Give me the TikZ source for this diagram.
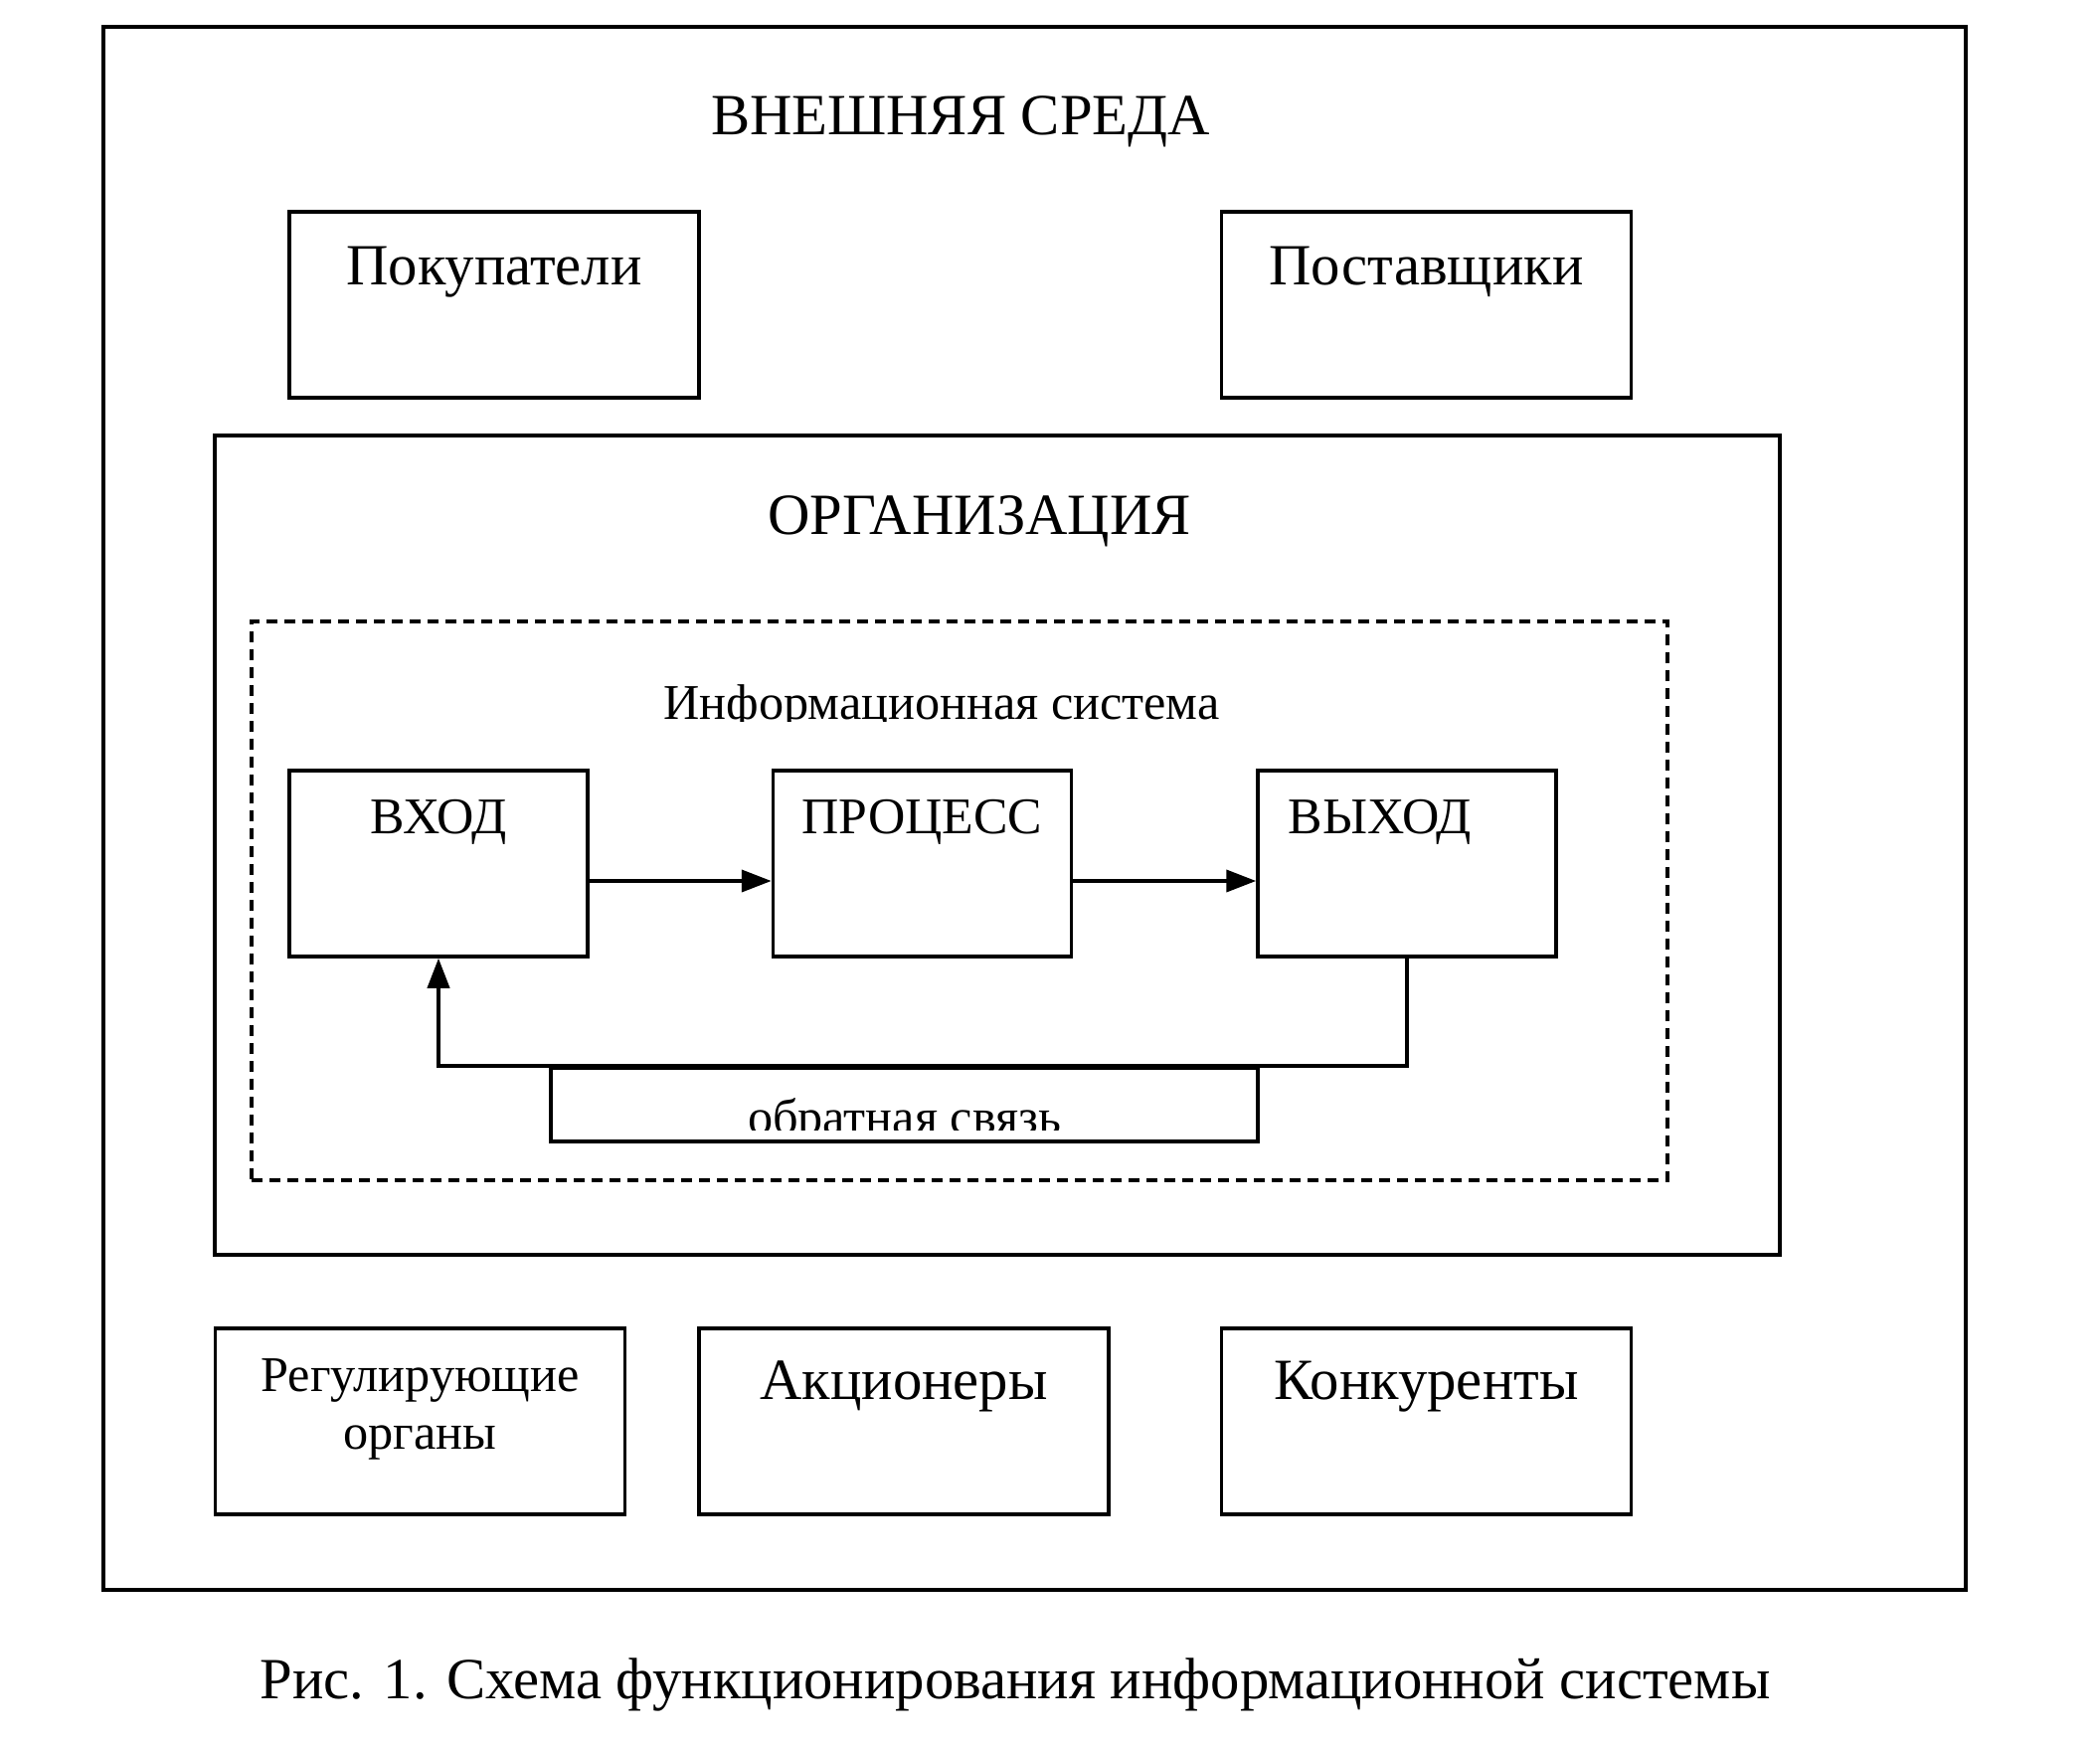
\documentclass[tikz,border=0pt]{standalone}
\usepackage{fontspec}
\setmainfont{Liberation Serif}
\usetikzlibrary{arrows.meta,positioning}
\tikzset{
  envbox/.style  = {rectangle, draw, line width=1pt, inner sep=0pt, minimum width=41.2mm, minimum height=18.7mm},
  unitbox/.style = {rectangle, draw, line width=1pt, inner sep=0pt, minimum width=30mm, minimum height=18.7mm},
  flow/.style    = {-{Triangle[length=3mm,width=2.2mm]}, line width=1.1pt},
  lbl/.style     = {inner sep=0pt, anchor=base, font=\fontsize{16.7}{19}\selectfont},
  lblsmall/.style= {inner sep=0pt, anchor=base, font=\fontsize{14.3}{16.5}\selectfont},
  lblunit/.style = {inner sep=0pt, anchor=base, font=\fontsize{14.7}{17}\selectfont}
}
\begin{document}
\begin{tikzpicture}[x=0.1mm, y=-0.1mm]
  \useasboundingbox (0,0) rectangle (2112,1754);
  % outer frame and organisation
  \node[draw, line width=1pt, inner sep=0pt, minimum width=187.3mm, minimum height=157.2mm] (env) at (1040.5,813) {};
  \node[lbl] (envT) at (966,136) {ВНЕШНЯЯ СРЕДА};
  \node[envbox] (buy) at (497,306.5) {};
  \node[lbl] at ([yshift=-7.5mm]buy.north) {Покупатели};
  \node[envbox] (sup) at (1434.5,306.5) {};
  \node[lbl] at ([yshift=-7.5mm]sup.north) {Поставщики};
  \node[draw, line width=1pt, inner sep=0pt, minimum width=157.4mm, minimum height=82.4mm] (org) at (1003,850) {};
  \node[lbl] (orgT) at (985,537) {ОРГАНИЗАЦИЯ};
  % information system
  \node[draw, line width=1pt, dash pattern=on 1.1mm off 0.7mm, inner sep=0pt, minimum width=142.4mm, minimum height=56.2mm] (is) at (965,906) {};
  \begin{scope}
    \clip (260,640) rectangle (1670,725);
    \node[lblsmall] (isT) at (947,723) {Информационная система};
  \end{scope}
  \node[unitbox] (in) at (441,868.5) {};
  \node[lblunit] at ([yshift=-6.5mm]in.north) {ВХОД};
  \node[unitbox] (proc) at (927.5,868.5) {};
  \node[lblunit] at ([yshift=-6.5mm]proc.north) {ПРОЦЕСС};
  \node[unitbox] (out) at (1415,868.5) {};
  \node[lblunit] at ([xshift=-2.7mm,yshift=-6.5mm]out.north) {ВЫХОД};
  \node[draw, line width=1pt, inner sep=0pt, minimum width=71.1mm, minimum height=7.4mm] (fb) at (909.5,1111) {};
  \begin{scope}
    \clip (560,1080) rectangle (1260,1136);
    \node[lblsmall] (fbT) at (909.5,1140) {обратная связь};
  \end{scope}
  \draw[flow] ([yshift=-1.75mm]in.east) -- ([yshift=-1.75mm]proc.west);
  \draw[flow] ([yshift=-1.75mm]proc.east) -- ([yshift=-1.75mm]out.west);
  \draw[flow] (out.south) |- (fb.north) -| (in.south);
  % bottom row
  \node[envbox] (reg) at (422.5,1429.5) {};
  \node[lblsmall, align=center] at ([yshift=-12.3mm]reg.north) {Регулирующие\\органы};
  \node[envbox] (share) at (909,1429.5) {};
  \node[lbl] at ([yshift=-7.3mm]share.north) {Акционеры};
  \node[envbox] (comp) at (1434.5,1429.5) {};
  \node[lbl] at ([yshift=-7.3mm]comp.north) {Конкуренты};
  \node[lbl] (cap) at (1021,1708) {Рис. 1. Схема функционирования информационной системы};
\end{tikzpicture}
\end{document}
